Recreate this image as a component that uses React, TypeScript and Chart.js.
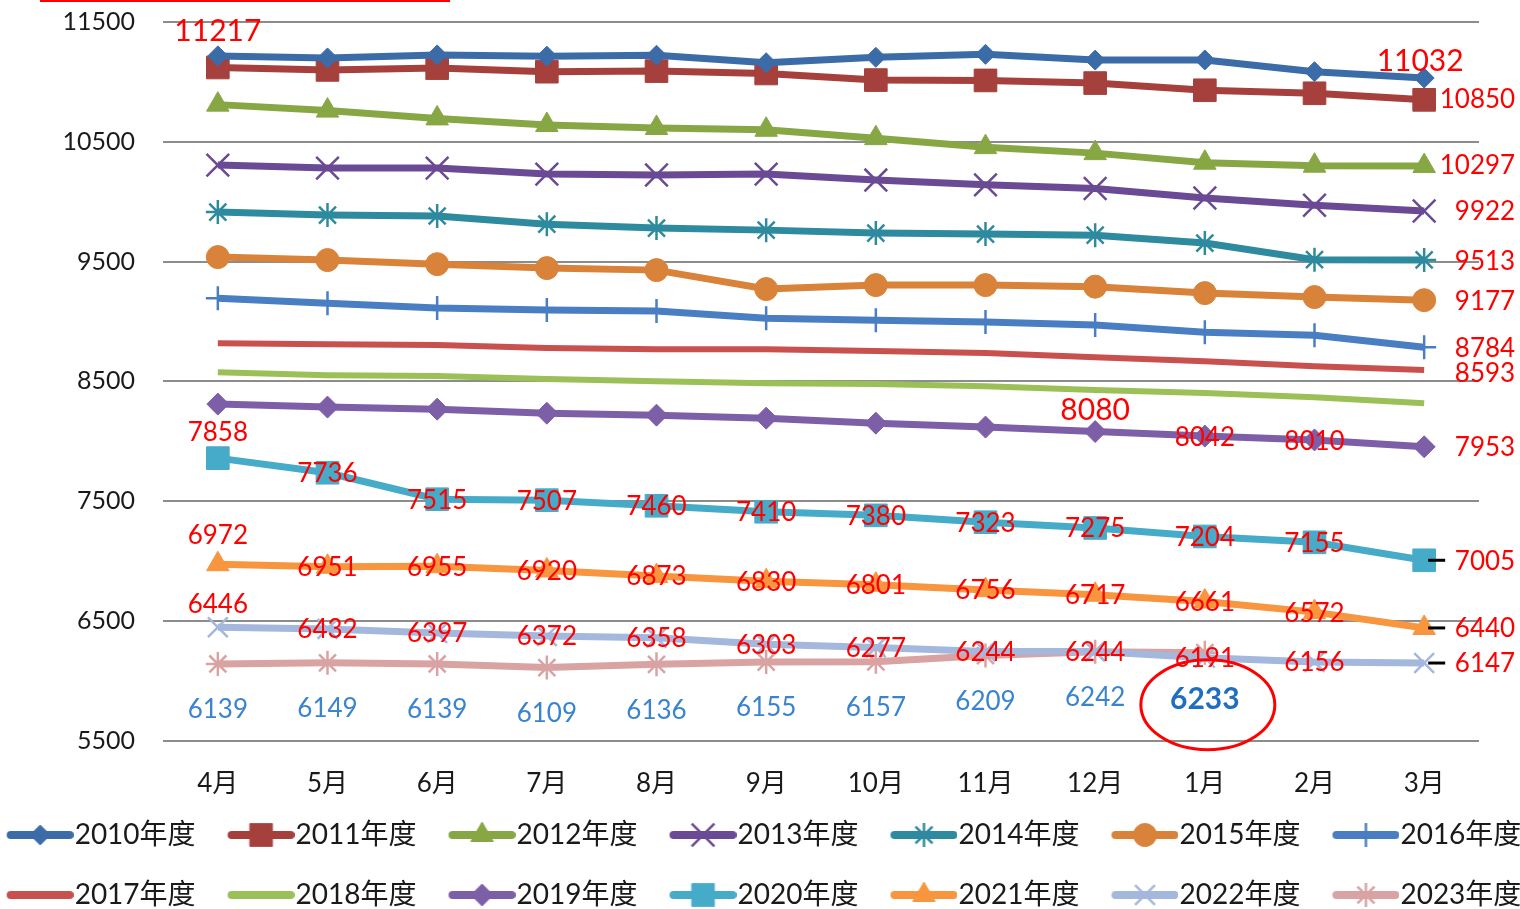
import React, { useEffect, useRef } from 'react';
import { Chart, registerables } from 'chart.js';
import { drawPoint } from 'chart.js/helpers';

Chart.register(...registerables);

// ---------- data ----------
const months = ['4月', '5月', '6月', '7月', '8月', '9月', '10月', '11月', '12月', '1月', '2月', '3月'];
const seriesNames = ['2010年度', '2011年度', '2012年度', '2013年度', '2014年度', '2015年度', '2016年度',
  '2017年度', '2018年度', '2019年度', '2020年度', '2021年度', '2022年度', '2023年度'];

const v2010 = [11217, 11200, 11225, 11215, 11222, 11160, 11205, 11230, 11182, 11183, 11085, 11032];
const v2011 = [11120, 11100, 11115, 11085, 11090, 11070, 11015, 11012, 10990, 10930, 10905, 10850];
const v2012 = [10810, 10760, 10695, 10640, 10615, 10600, 10530, 10455, 10405, 10325, 10300, 10297];
const v2013 = [10305, 10280, 10280, 10230, 10222, 10230, 10180, 10140, 10110, 10030, 9970, 9922];
const v2014 = [9913, 9888, 9880, 9812, 9779, 9762, 9737, 9729, 9720, 9654, 9515, 9513];
const v2015 = [9537, 9512, 9478, 9445, 9428, 9270, 9303, 9303, 9290, 9236, 9203, 9177];
const v2016 = [9194, 9152, 9111, 9094, 9086, 9027, 9010, 8994, 8969, 8910, 8885, 8784];
const v2017 = [8818, 8810, 8802, 8777, 8768, 8768, 8752, 8735, 8701, 8668, 8626, 8593];
const v2018 = [8576, 8551, 8543, 8518, 8501, 8484, 8476, 8459, 8426, 8401, 8367, 8317];
const v2019 = [8309, 8284, 8267, 8233, 8217, 8192, 8150, 8117, 8080, 8042, 8010, 7953];
const v2020 = [7858, 7736, 7515, 7507, 7460, 7410, 7380, 7323, 7275, 7204, 7155, 7005];
const v2021 = [6972, 6951, 6955, 6920, 6873, 6830, 6801, 6756, 6717, 6661, 6572, 6440];
const v2022 = [6446, 6432, 6397, 6372, 6358, 6303, 6277, 6244, 6244, 6191, 6156, 6147];
const v2023 = [6139, 6149, 6139, 6109, 6136, 6155, 6157, 6209, 6242, 6233, null, null];

const seriesValues = [v2010, v2011, v2012, v2013, v2014, v2015, v2016, v2017, v2018, v2019, v2020, v2021, v2022, v2023];

const yMin = 5500;
const yMax = 11500;
const yStep = 1000;

// ---------- styles ----------
const seriesColors = ['#3C6CA8', '#A5403D', '#87A744', '#6A4A94', '#2E8A9E', '#D9823A', '#4A7EC2',
  '#C8504D', '#9BC058', '#7D5FA8', '#46ABC8', '#F7963F', '#A4B7DD', '#D9A3A3'];
const markerStyles: (string | false)[] = ['rectRot', 'rect', 'triangle', 'crossRot', 'star', 'circle', 'cross',
  false, false, 'rectRot', 'rect', 'triangle', 'crossRot', 'star'];
const markerRadius = [10, 16, 13, 16, 12, 11.5, 12, 0, 0, 11, 16, 13, 14, 12];
const markerBorder = [1, 1, 1, 2.5, 2.5, 1, 2.5, 0, 0, 1, 1, 1, 2.5, 2.5];

const RED = '#FF0000';
const BLUE = '#3A84CF';
const BLUE_BOLD = '#1F6EC0';
const FONT = "Lato, 'Noto Sans CJK SC', sans-serif";

type Rule = {
  s: number; i: number[]; pos: 'above' | 'center' | 'right' | 'below';
  dx?: number; dy?: number; size?: number; color?: string; bold?: boolean; leader?: boolean; ring?: boolean;
};
const mid = [1, 2, 3, 4, 5, 6, 7, 8, 9, 10];
const labelRules: Rule[] = [
  { s: 0, i: [0], pos: 'above', dy: -25, size: 30 },
  { s: 0, i: [11], pos: 'above', dx: -4, dy: -17, size: 30 },
  { s: 1, i: [11], pos: 'right', dy: 0 },
  { s: 2, i: [11], pos: 'right', dy: 0 },
  { s: 3, i: [11], pos: 'right', dy: 1 },
  { s: 4, i: [11], pos: 'right', dy: 2 },
  { s: 5, i: [11], pos: 'right', dy: 1 },
  { s: 6, i: [11], pos: 'right', dy: 1 },
  { s: 7, i: [11], pos: 'right', dy: 3 },
  { s: 9, i: [8], pos: 'above', dy: -21, size: 30 },
  { s: 9, i: [9, 10], pos: 'center', dy: 2 },
  { s: 9, i: [11], pos: 'right', dy: 1 },
  { s: 10, i: [0], pos: 'above', dy: -26 },
  { s: 10, i: mid, pos: 'center', dy: 1 },
  { s: 10, i: [11], pos: 'right', dy: 1, leader: true },
  { s: 11, i: [0], pos: 'above', dy: -29 },
  { s: 11, i: mid, pos: 'center', dy: 1 },
  { s: 11, i: [11], pos: 'right', dy: 1, leader: true },
  { s: 12, i: [0], pos: 'above', dy: -23 },
  { s: 12, i: mid, pos: 'center', dy: 1 },
  { s: 12, i: [11], pos: 'right', dy: 1, leader: true },
  { s: 13, i: [0, 1, 2, 3, 4, 5, 6, 7, 8], pos: 'below', dy: 46, color: BLUE },
  { s: 13, i: [9], pos: 'below', dy: 47, color: BLUE_BOLD, bold: true, size: 30, ring: true },
];

const valueLabelPlugin = {
  id: 'valueLabels',
  afterDatasetsDraw(chart: any) {
    const ctx: CanvasRenderingContext2D = chart.ctx;
    ctx.save();
    ctx.textBaseline = 'middle';
    for (const rule of labelRules) {
      const meta = chart.getDatasetMeta(rule.s);
      const data = chart.data.datasets[rule.s].data;
      for (const i of rule.i) {
        const el = meta.data[i];
        const v = data[i];
        if (!el || v == null) continue;
        let x = el.x + (rule.dx || 0);
        const y = el.y + (rule.dy || 0);
        ctx.font = `${rule.bold ? 'bold ' : ''}${rule.size || 26}px ${FONT}`;
        ctx.fillStyle = rule.color || RED;
        if (rule.pos === 'right') {
          ctx.textAlign = 'right';
          x = el.x + 91;
        } else {
          ctx.textAlign = 'center';
        }
        ctx.fillText(String(v), x, y);
        if (rule.leader) {
          ctx.strokeStyle = '#000';
          ctx.lineWidth = 3;
          ctx.beginPath();
          ctx.moveTo(el.x + 4, el.y);
          ctx.lineTo(el.x + 21, el.y);
          ctx.stroke();
        }
        if (rule.ring) {
          ctx.strokeStyle = '#FF0000';
          ctx.lineWidth = 3;
          ctx.beginPath();
          ctx.ellipse(x + 3, y + 5, 67, 45, 0, 0, Math.PI * 2);
          ctx.stroke();
        }
      }
    }
    ctx.restore();
  },
};

function makeLegendIcon(i: number): HTMLCanvasElement {
  const c = document.createElement('canvas');
  c.width = 80;
  c.height = 34;
  const ctx = c.getContext('2d')!;
  const color = seriesColors[i];
  ctx.strokeStyle = color;
  ctx.fillStyle = color;
  ctx.lineCap = 'round';
  ctx.lineWidth = 8;
  ctx.beginPath();
  ctx.moveTo(17, 17);
  ctx.lineTo(76, 17);
  ctx.stroke();
  const style = markerStyles[i];
  if (style) {
    ctx.lineWidth = markerBorder[i];
    ctx.lineCap = 'butt';
    drawPoint(ctx, { pointStyle: style as any, rotation: 0, radius: markerRadius[i], borderWidth: markerBorder[i] }, 46.5, 17);
  }
  return c;
}

const OFFSET = 36;
const CW = 1600;
const CH = 919;

export default function App() {
  const ref = useRef<HTMLCanvasElement>(null);
  useEffect(() => {
    if (!ref.current) return;
    const icons = seriesNames.map((_, i) => makeLegendIcon(i));
    const datasets = seriesNames.map((name, i) => ({
      label: name,
      data: seriesValues[i],
      borderColor: seriesColors[i],
      backgroundColor: seriesColors[i],
      borderWidth: i === 7 || i === 8 ? 6 : 7,
      tension: 0,
      pointStyle: (markerStyles[i] || 'circle') as any,
      pointRadius: markerRadius[i],
      pointHoverRadius: markerRadius[i],
      pointBorderWidth: markerBorder[i],
      pointBackgroundColor: seriesColors[i],
      pointBorderColor: seriesColors[i],
      spanGaps: false,
    }));
    const chart = new Chart(ref.current, {
      type: 'line',
      data: { labels: months, datasets },
      plugins: [valueLabelPlugin],
      options: {
        animation: false,
        responsive: false,
        devicePixelRatio: 1,
        events: [],
        layout: { padding: { top: 22, left: 0, right: 0, bottom: 0 } },
        scales: {
          x: {
            type: 'category',
            offset: true,
            grid: { display: false, drawTicks: false },
            border: { display: false },
            ticks: { color: '#1a1a1a', font: { family: FONT, size: 26 }, padding: 28, maxRotation: 0, autoSkip: false },
            afterFit: (s: any) => {
              s.height = 48.5;
              s._computeLabelArea = () => undefined;
            },
          },
          y: {
            type: 'linear',
            min: yMin,
            max: yMax,
            grid: { color: '#8c8c8c', lineWidth: 2, drawTicks: true, tickLength: 28, tickColor: 'rgba(0,0,0,0)' },
            border: { display: false },
            ticks: {
              stepSize: yStep, color: '#1a1a1a', font: { family: FONT, size: 25 }, padding: 0,
              callback: (v: any) => String(v),
            },
            afterFit: (s: any) => { s.width = 163 + OFFSET; },
          },
          y2: {
            type: 'linear',
            position: 'right',
            display: true,
            grid: { display: false, drawTicks: false },
            border: { display: false },
            ticks: { display: false, padding: 0 },
            afterFit: (s: any) => { s.width = CW - (1479 + OFFSET); },
          },
        },
        plugins: {
          tooltip: { enabled: false },
          legend: {
            position: 'bottom',
            labels: {
              usePointStyle: true,
              pointStyleWidth: 54,
              padding: 32,
              color: '#1a1a1a',
              font: { family: FONT, size: 28 },
              generateLabels: (c: any) => c.data.datasets.map((ds: any, i: number) => ({
                text: ds.label,
                datasetIndex: i,
                hidden: false,
                fontColor: '#1a1a1a',
                pointStyle: icons[i],
                lineWidth: 0,
                strokeStyle: 'rgba(0,0,0,0)',
                fillStyle: 'rgba(0,0,0,0)',
              })),
            },
          },
        },
      } as any,
    });
    return () => chart.destroy();
  }, []);

  return (
    <div style={{ position: 'fixed', left: 0, top: 0, width: 1520, height: 909, overflow: 'hidden', background: '#fff' }}>
      <div style={{ position: 'absolute', left: -OFFSET, top: 0, width: CW, height: CH }}>
        <canvas ref={ref} width={CW} height={CH} style={{ width: CW, height: CH, display: 'block' }} />
      </div>
      <div style={{ position: 'absolute', left: 40, top: 0, width: 410, height: 2, background: '#FF0000' }} />
    </div>
  );
}
